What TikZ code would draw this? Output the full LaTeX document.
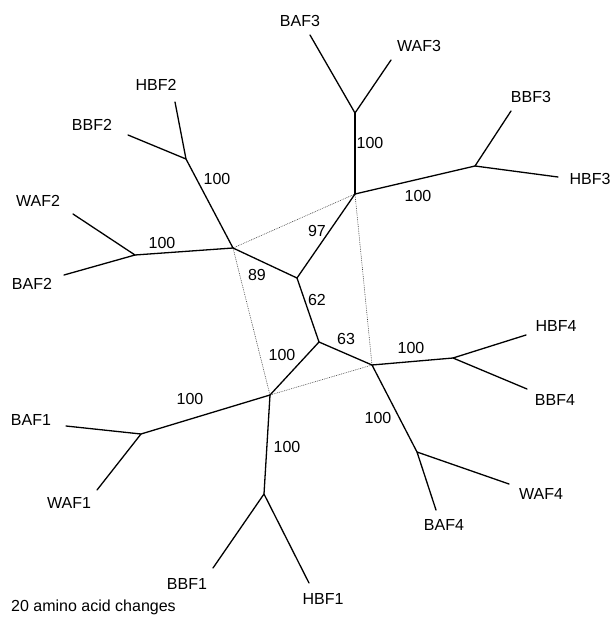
\documentclass[tikz,border=0pt]{standalone}
\usepackage{fontspec}
\setmainfont{Liberation Sans}
\begin{document}
\begin{tikzpicture}[x=1pt,y=-1pt,
  br/.style={line width=1.3pt,black,line cap=round,line join=round},
  dot/.style={line width=0.6pt,black!75,dash pattern=on 0.8pt off 1pt},
  lab/.style={font=\fontsize{16}{19}\selectfont,inner sep=0pt},
  bs/.style={font=\fontsize{16}{19}\selectfont,inner sep=0pt}]
\useasboundingbox (0,0) rectangle (613,627);
% internal nodes
\coordinate (h2) at (233,248);
\coordinate (h3) at (355,194);
\coordinate (h4) at (372,365);
\coordinate (h1) at (270,395);
\coordinate (ia) at (297,278);
\coordinate (ib) at (319,342);
% group 3
\coordinate (j3a) at (355,113);
\coordinate (eBAF3) at (310,35);
\coordinate (eWAF3) at (391,60);
\coordinate (j3b) at (475,166);
\coordinate (eBBF3) at (511,111);
\coordinate (eHBF3) at (558,177);
% group 2
\coordinate (j2a) at (186,159);
\coordinate (eHBF2) at (175,102);
\coordinate (eBBF2) at (128,135);
\coordinate (j2b) at (135,255);
\coordinate (eWAF2) at (73,214);
\coordinate (eBAF2) at (64,275);
% group 1
\coordinate (j1a) at (141,434);
\coordinate (eBAF1) at (66,426);
\coordinate (eWAF1) at (97,490);
\coordinate (j1b) at (264,494);
\coordinate (eBBF1) at (213,568);
\coordinate (eHBF1) at (309,583);
% group 4
\coordinate (j4a) at (453,358);
\coordinate (eHBF4) at (526,335);
\coordinate (eBBF4) at (527,389);
\coordinate (j4b) at (417,452);
\coordinate (eWAF4) at (509,484);
\coordinate (eBAF4) at (436,510);
% dotted box
\draw[dot] (h2) -- (h3) -- (h4) -- (h1) -- cycle;
% core
\draw[br] (h2) -- (ia) -- (h3);
\draw[br] (ia) -- (ib) -- (h4);
\draw[br] (ib) -- (h1);
% branches
\draw[br] (h3) -- (j3a); \draw[br] (eBAF3) -- (j3a) -- (eWAF3);
\draw[br] (h3) -- (j3b); \draw[br] (eBBF3) -- (j3b) -- (eHBF3);
\draw[br] (h2) -- (j2a); \draw[br] (eHBF2) -- (j2a) -- (eBBF2);
\draw[br] (h2) -- (j2b); \draw[br] (eWAF2) -- (j2b) -- (eBAF2);
\draw[br] (h1) -- (j1a); \draw[br] (eBAF1) -- (j1a) -- (eWAF1);
\draw[br] (h1) -- (j1b); \draw[br] (eBBF1) -- (j1b) -- (eHBF1);
\draw[br] (h4) -- (j4a); \draw[br] (eHBF4) -- (j4a) -- (eBBF4);
\draw[br] (h4) -- (j4b); \draw[br] (eWAF4) -- (j4b) -- (eBAF4);
% taxa labels
\node[lab] (BAF3) at (300,21) {BAF3};
\node[lab] (WAF3) at (419,46) {WAF3};
\node[lab] (BBF3) at (531,97) {BBF3};
\node[lab] (HBF3) at (590,179) {HBF3};
\node[lab] (HBF2) at (156,85) {HBF2};
\node[lab] (BBF2) at (92,125) {BBF2};
\node[lab] (WAF2) at (38,201) {WAF2};
\node[lab] (BAF2) at (32,284) {BAF2};
\node[lab] (BAF1) at (31,420) {BAF1};
\node[lab] (WAF1) at (69,503) {WAF1};
\node[lab] (BBF1) at (187,584) {BBF1};
\node[lab] (HBF1) at (323,599) {HBF1};
\node[lab] (HBF4) at (556,326) {HBF4};
\node[lab] (BBF4) at (555,400) {BBF4};
\node[lab] (WAF4) at (541,494) {WAF4};
\node[lab] (BAF4) at (444,525) {BAF4};
% bootstrap labels
\node[bs] (b3a) at (370,143) {100};
\node[bs] (b3b) at (418,196) {100};
\node[bs] (b2a) at (217,179) {100};
\node[bs] (b2b) at (162,243) {100};
\node[bs] (b97) at (317,231) {97};
\node[bs] (b89) at (257,275) {89};
\node[bs] (b62) at (317,300) {62};
\node[bs] (b63) at (346,339) {63};
\node[bs] (bc) at (282,355) {100};
\node[bs] (b1a) at (190,399) {100};
\node[bs] (b1b) at (287,447) {100};
\node[bs] (b4a) at (411,348) {100};
\node[bs] (b4b) at (378,418) {100};
% scale text
\node[lab,anchor=west] (scale) at (11,607) {20 amino acid changes};
\end{tikzpicture}
\end{document}
